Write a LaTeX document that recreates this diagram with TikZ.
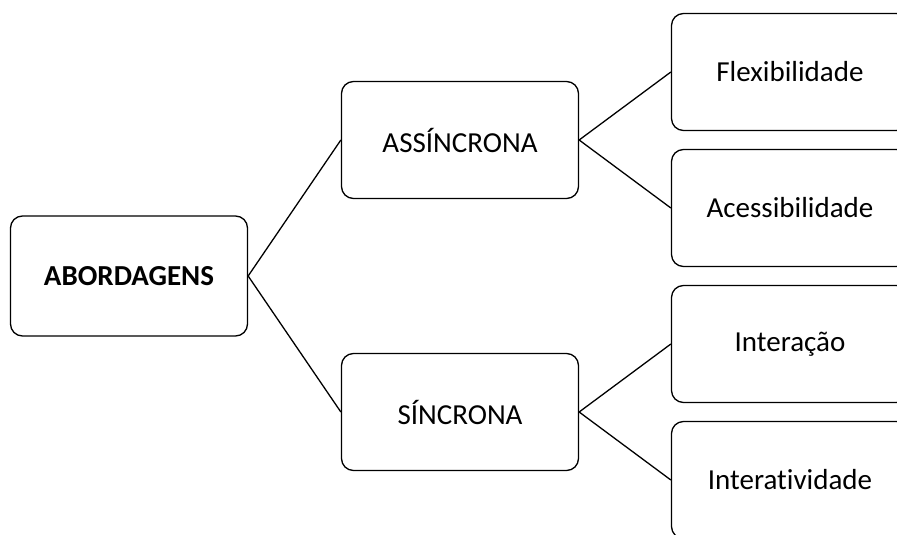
\documentclass[tikz,border=0pt]{standalone}
\usepackage{fontspec}
\setmainfont[Ligatures={NoCommon}]{Carlito}
\tikzset{caixa/.style={draw,rounded corners=12pt,line width=1.3pt,minimum width=237pt,minimum height=117pt,inner sep=0pt,font=\fontsize{29}{34}\selectfont}}
\begin{document}
\begin{tikzpicture}[x=1pt,y=-1pt]
    \clip (0,0) rectangle (897,535);
    \node[caixa,minimum height=120pt] (abord) at (129,276) {\textbf{ABORDAGENS}};
    \node[caixa] (assinc) at (460,140) {ASSÍNCRONA};
    \node[caixa] (sinc) at (460,412) {SÍNCRONA};
    \node[caixa] (flex) at (790,72) {Flexibilidade};
    \node[caixa] (acess) at (790,208) {Acessibilidade};
    \node[caixa] (inter) at (790,344) {Interação};
    \node[caixa] (interat) at (790,480) {Interatividade};
    \draw[line width=1.3pt] (assinc.west) -- (abord.east) -- (sinc.west);
    \draw[line width=1.3pt] (flex.west) -- (assinc.east) -- (acess.west);
    \draw[line width=1.3pt] (inter.west) -- (sinc.east) -- (interat.west);
\end{tikzpicture}
\end{document}
